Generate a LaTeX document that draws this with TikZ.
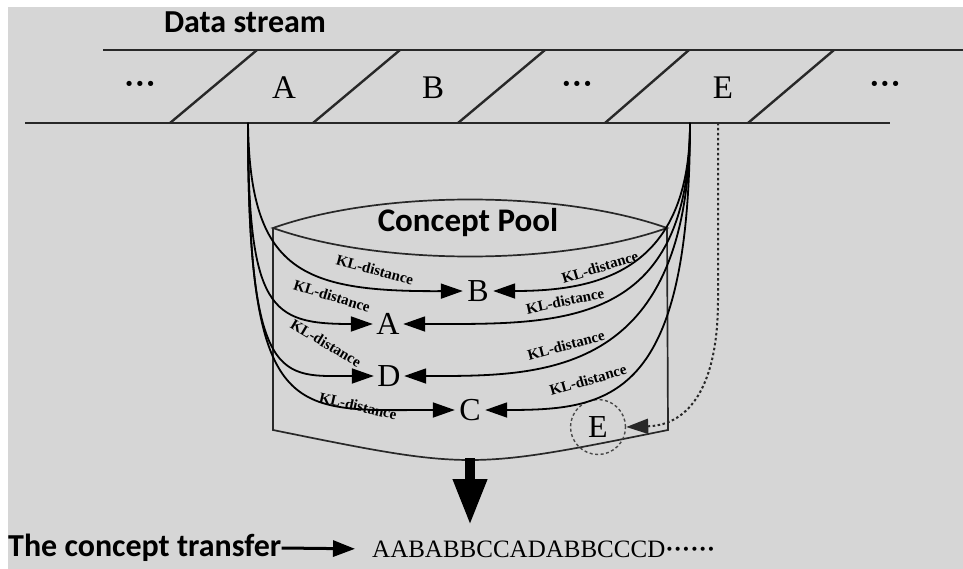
\documentclass[tikz,border=0pt]{standalone}
\usepackage{fontspec}
\setmainfont{Liberation Serif}
\newfontfamily\carl{Carlito}
\usetikzlibrary{arrows.meta}
\definecolor{bgc}{RGB}{214,214,214}
\definecolor{ln}{RGB}{40,40,40}
\tikzset{
  sans/.style={font=\carl\bfseries\fontsize{32}{32}\selectfont, inner sep=0pt},
  slet/.style={font=\fontsize{33}{33}\selectfont, inner sep=0pt},
  sdots/.style={font=\bfseries\fontsize{32}{32}\selectfont, inner sep=0pt},
  plet/.style={font=\fontsize{32}{32}\selectfont, inner sep=0pt, minimum width=30pt},
  kl/.style={font=\bfseries\fontsize{15}{15}\selectfont, inner sep=0pt},
  streamline/.style={line width=2.8pt, draw=ln},
  curve/.style={line width=1.8pt, draw=black},
  box/.style={line width=1.7pt, draw=ln},
  tip/.style={-{Triangle[length=22pt,width=15pt]}},
  dotline/.style={line width=2pt, draw=ln, dash pattern=on 2.5pt off 2.5pt},
}
\begin{document}
\begin{tikzpicture}[x=1pt,y=-1pt]
\useasboundingbox (0,0) rectangle (963,569);
\fill[white] (0,0) rectangle (963,569);
\fill[bgc] (8,7) rectangle (963,569);

% data stream
\node[sans] (ds) at (245,22) {Data stream};
\draw[streamline] (103,50) -- (963,50);
\draw[streamline] (25,123) -- (890,123);
\foreach \b/\t in {170/257, 313/400, 458/545, 605/689, 748/834}
  \draw[streamline, line width=2.4pt] (\b,123) -- (\t,50);
\node[sdots] (d1) at (140,88) {···};
\node[slet] (sA) at (284,88) {A};
\node[slet] (sB) at (433,88) {B};
\node[sdots] (d2) at (577,88) {···};
\node[slet] (sE) at (723,88) {E};
\node[sdots] (d3) at (885,88) {···};

% pool
\coordinate (lensL) at (273,228);
\coordinate (lensR) at (667,228);
\draw[box] (lensL) .. controls (380,190) and (560,190) .. (lensR)
               .. controls (560,266) and (380,266) .. cycle;
\draw[box] (lensL) -- (273,430) .. controls (470,470) .. (668,430) -- (lensR);
\node[sans, font=\carl\bfseries\fontsize{33}{33}\selectfont] (cp) at (468,223) {Concept Pool};

% concepts
\node[plet] (nB) at (478,291) {B};
\node[plet] (nA) at (388,324) {A};
\node[plet] (nD) at (389,376) {D};
\node[plet] (nC) at (470,410) {C};
\node[plet, minimum width=0pt] (eE) at (598,427) {E};
\node[circle, draw=ln!85, line width=1.4pt, dash pattern=on 3pt off 2.5pt, minimum size=55pt, inner sep=0pt] (nE) at (598,427) {};

% trunks
\coordinate (L) at (248,123);
\coordinate (R) at (690,123);
\coordinate (dsE) at (718,123);

\draw[curve, tip] (L) .. controls (250,270) and (300,292) .. (nB.west);
\draw[curve, tip] (L) .. controls (248,310) and (270,324) .. (nA.west);
\draw[curve, tip] (L) .. controls (248,388) and (280,376) .. (nD.west);
\draw[curve, tip] (L) .. controls (248,425) and (290,410) .. (nC.west);

\draw[curve, tip] (R) .. controls (690,270) and (600,291) .. (nB.east);
\draw[curve, tip] (R) .. controls (690,330) and (560,324) .. (nA.east);
\draw[curve, tip] (R) .. controls (690,380) and (540,376) .. (nD.east);
\draw[curve, tip] (R) .. controls (690,400) and (610,410) .. (nC.east);

\draw[dotline, -{Triangle[length=22pt,width=15pt]}] (dsE) -- (718,300)
   .. controls (718,385) and (690,425) .. (nE.east);

% KL labels
\node[kl, rotate=-15] (k1) at (375,270) {KL-distance};
\node[kl, rotate=-17] (k2) at (332,296) {KL-distance};
\node[kl, rotate=-31] (k3) at (326,343) {KL-distance};
\node[kl, rotate=-13] (k4) at (358,406) {KL-distance};
\node[kl, rotate=17] (k5) at (600,267) {KL-distance};
\node[kl, rotate=12] (k6) at (565,301) {KL-distance};
\node[kl, rotate=15] (k7) at (566,345) {KL-distance};
\node[kl, rotate=16] (k8) at (588,380) {KL-distance};

% output
\coordinate (poolbot) at (470,458);
\coordinate (outtip) at (470,525);
\draw[line width=10pt, -{Triangle[length=46pt,width=32pt]}] (poolbot) -- (outtip);

\node[sans, anchor=west] (ct) at (8,548) {The concept transfer};
\node[font=\fontsize{25}{25}\selectfont, inner sep=0pt, anchor=west] (seq) at (372,549) {AABABBCCADABBCCCD\textbf{······}};
\draw[line width=3pt, -{Triangle[length=22pt,width=16pt]}, shorten >=17pt] (ct.east) -- (seq.west);
\end{tikzpicture}
\end{document}
